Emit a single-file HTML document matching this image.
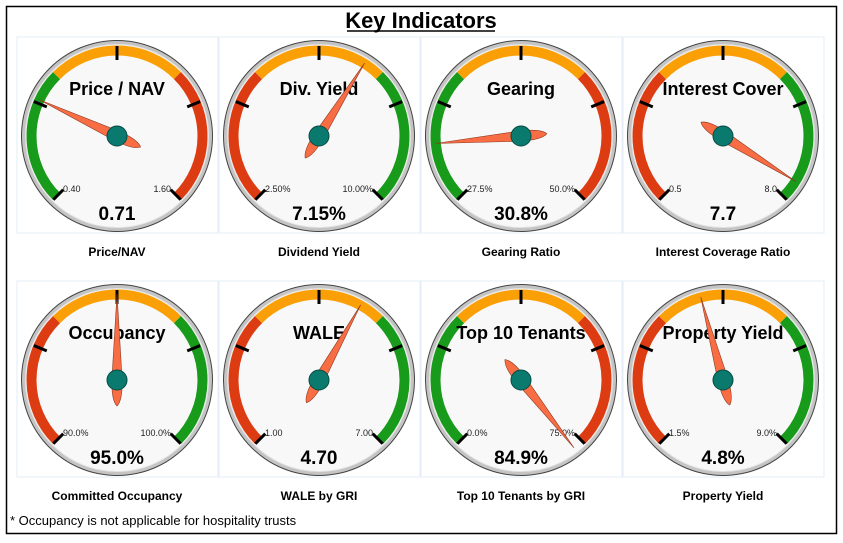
<!DOCTYPE html>
<html><head><meta charset="utf-8"><style>
body{margin:0;background:#fff;width:843px;height:538px;overflow:hidden;font-family:"Liberation Sans",sans-serif}
</style></head><body>
<svg id="s" width="843" height="538" xmlns="http://www.w3.org/2000/svg">
<rect x="6.5" y="6.5" width="830" height="527" fill="#fff" stroke="#000" stroke-width="1.5"/>
<text x="421" y="28" text-anchor="middle" font-size="22" font-weight="bold" font-family="Liberation Sans">Key Indicators</text>
<line x1="347" y1="31" x2="495" y2="31" stroke="#000" stroke-width="1.5"/>
<text x="10" y="525" font-size="13" font-family="Liberation Sans">* Occupancy is not applicable for hospitality trusts</text>
</svg>
<script>
var s=document.getElementById('s'),NS='http://www.w3.org/2000/svg';
function el(t,a,txt){var e=document.createElementNS(NS,t);for(var k in a)e.setAttribute(k,a[k]);if(txt)e.textContent=txt;s.appendChild(e);return e;}
var G='#189a1b',O='#fb9f06',R='#dd3c12';
var gs=[
['Price / NAV','0.40','1.60','0.71','Price/NAV',[G,O,R],-65],
['Div. Yield','2.50%','10.00%','7.15%','Dividend Yield',[R,O,G],32],
['Gearing','27.5%','50.0%','30.8%','Gearing Ratio',[G,O,R],-95],
['Interest Cover','0.5','8.0','7.7','Interest Coverage Ratio',[R,O,G],122],
['Occupancy','90.0%','100.0%','95.0%','Committed Occupancy',[R,O,G],0],
['WALE','1.00','7.00','4.70','WALE by GRI',[R,O,G],29],
['Top 10 Tenants','0.0%','75.0%','84.9%','Top 10 Tenants by GRI',[G,O,R],142],
['Property Yield','1.5%','9.0%','4.8%','Property Yield',[R,O,G],-15]];
var cxs=[117,319,521,723],cys=[136,380];
function pt(cx,cy,r,a){var t=a*Math.PI/180;return [cx+r*Math.sin(t),cy-r*Math.cos(t)];}
gs.forEach(function(g,i){
 var cx=cxs[i%4],cy=cys[Math.floor(i/4)];
 el('rect',{x:cx-100,y:cy-99,width:201,height:196,fill:'#fff',stroke:'#e3ecf7','stroke-width':1});
 el('circle',{cx:cx,cy:cy,r:96,fill:'#444'});
 el('circle',{cx:cx,cy:cy,r:95,fill:'#c4c4c4'});
 el('circle',{cx:cx,cy:cy,r:92,fill:'#e4e4e4'});
 el('circle',{cx:cx,cy:cy,r:91,fill:'#f8f8f8'});
 [[-135,-45],[-45,45],[45,135]].forEach(function(a,j){
  var p1=pt(cx,cy,85.5,a[0]),p2=pt(cx,cy,85.5,a[1]);
  el('path',{d:'M'+p1+' A85.5,85.5 0 0 1 '+p2,fill:'none',stroke:g[5][j],'stroke-width':10});
 });
 [-135,-67.5,0,67.5,135].forEach(function(a){
  var p1=pt(cx,cy,76,a),p2=pt(cx,cy,90,a);
  el('line',{x1:p1[0],y1:p1[1],x2:p2[0],y2:p2[1],stroke:'#000','stroke-width':3});
 });
 el('text',{x:cx,y:cy-41,'text-anchor':'middle','font-size':18,'font-weight':'bold','font-family':'Liberation Sans'},g[0]);
 el('text',{x:cx-54,y:cy+56,'font-size':9,fill:'#222','font-family':'Liberation Sans'},g[1]);
 el('text',{x:cx+54,y:cy+56,'text-anchor':'end','font-size':9,fill:'#222','font-family':'Liberation Sans'},g[2]);
 el('text',{x:cx,y:cy+84,'text-anchor':'middle','font-size':19,'font-weight':'bold','font-family':'Liberation Sans'},g[3]);
 el('text',{x:cx,y:cy+120,'text-anchor':'middle','font-size':12,'font-weight':'bold','font-family':'Liberation Sans'},g[4]);
 el('path',{d:'M0,-86 L5,-3 Q6,20 0,26 Q-6,20 -5,-3 Z',fill:'#f96d45',stroke:'#8a3a20','stroke-width':0.6,transform:'translate('+cx+','+cy+') rotate('+g[6]+')'});
 el('circle',{cx:cx,cy:cy,r:10,fill:'#0b7a6e',stroke:'#064c44','stroke-width':1});
});
</script>
</body></html>
